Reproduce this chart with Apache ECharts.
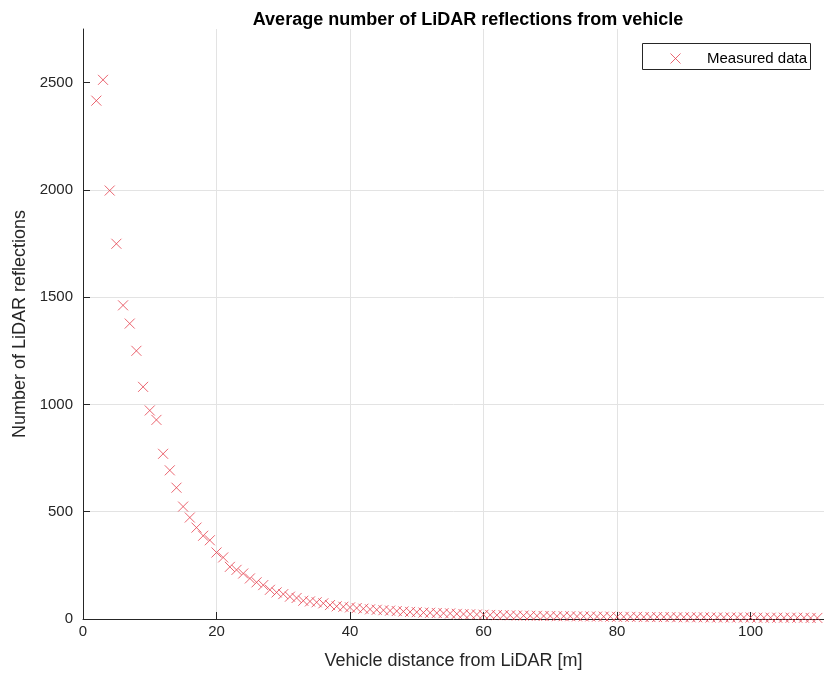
<!DOCTYPE html>
<html>
<head>
<meta charset="utf-8">
<script src="https://cdn.jsdelivr.net/npm/echarts@6/dist/echarts.min.js"></script>
<style>
  html, body { margin: 0; padding: 0; background: #fff; }
  #chart { width: 824px; height: 675px; }
</style>
</head>
<body>
<div id="chart"></div>
<script>
// distance from the LiDAR [m]
const distances = [
  2, 3, 4, 5, 6, 7, 8, 9, 10, 11, 12, 13, 14, 15, 16, 17, 18, 19, 20, 21,
  22, 23, 24, 25, 26, 27, 28, 29, 30, 31, 32, 33, 34, 35, 36, 37, 38, 39, 40, 41,
  42, 43, 44, 45, 46, 47, 48, 49, 50, 51, 52, 53, 54, 55, 56, 57, 58, 59, 60, 61,
  62, 63, 64, 65, 66, 67, 68, 69, 70, 71, 72, 73, 74, 75, 76, 77, 78, 79, 80, 81,
  82, 83, 84, 85, 86, 87, 88, 89, 90, 91, 92, 93, 94, 95, 96, 97, 98, 99, 100, 101,
  102, 103, 104, 105, 106, 107, 108, 109, 110
];
// average number of reflections
const reflections = [
  2416, 2513, 1997, 1749, 1462, 1377, 1250, 1082, 972, 928, 770, 693, 612, 524, 473, 426, 388, 367, 310, 287,
  243, 229, 212, 189, 171, 158, 136, 124, 116, 104, 98, 85, 82, 78, 73, 65, 59, 57, 54, 51,
  48, 45, 43, 41, 39, 37, 35, 33, 32, 30, 29, 28, 27, 26, 24, 23, 22, 21, 20, 19,
  18, 18, 17, 16, 16, 15, 15, 14, 14, 13, 13, 13, 12, 12, 12, 11, 11, 11, 10, 10,
  10, 10, 9, 9, 9, 9, 9, 8, 8, 8, 8, 8, 7, 7, 7, 7, 7, 7, 7, 6,
  6, 6, 6, 6, 6, 6, 6, 5, 5
];
const xTicks = [0, 20, 40, 60, 80, 100];
const yTicks = [0, 500, 1000, 1500, 2000, 2500];

const FONT = '"Liberation Sans", Arial, Helvetica, sans-serif';
const AXIS_COLOR = '#262626';
const GRID_COLOR = '#e3e3e3';
const RED = '#e5404e';
const CROSS = 'path://M0,0L10,10M10,0L0,10';
const crossStyle = { color: RED, borderColor: RED, borderWidth: 1 };

const chart = echarts.init(document.getElementById('chart'));

chart.setOption({
  animation: false,
  backgroundColor: '#fff',
  textStyle: { fontFamily: FONT },
  title: {
    text: 'Average number of LiDAR reflections from vehicle',
    left: 463,
    top: 6,
    textAlign: 'center',
    textStyle: { fontFamily: FONT, fontSize: 18, fontWeight: 'bold', color: '#000' }
  },
  // legend frame drawn separately so the icon keeps the series colour
  graphic: [{
    type: 'rect',
    left: 642,
    top: 43,
    z: 1,
    shape: { width: 168, height: 26 },
    style: { fill: '#fff', stroke: AXIS_COLOR, lineWidth: 1 }
  }],
  legend: {
    left: 642,
    top: 43,
    z: 10,
    orient: 'vertical',
    padding: [8, 8, 5, 28],
    itemWidth: 53,
    itemHeight: 10,
    itemGap: 5,
    textStyle: { fontFamily: FONT, fontSize: 15, color: '#000' },
    itemStyle: crossStyle,
    data: [{ name: 'Measured data', icon: CROSS, itemStyle: crossStyle }]
  },
  grid: { left: 83, top: 29, width: 742, height: 591, containLabel: false },
  xAxis: {
    type: 'value',
    min: 0,
    max: 111,
    interval: 20,
    name: 'Vehicle distance from LiDAR [m]',
    nameLocation: 'middle',
    nameGap: 33,
    nameTextStyle: { fontFamily: FONT, fontSize: 18, color: AXIS_COLOR },
    axisLine: { show: true, lineStyle: { color: AXIS_COLOR, width: 1 } },
    axisTick: { show: true, inside: true, length: 7, customValues: xTicks, lineStyle: { color: AXIS_COLOR } },
    axisLabel: { customValues: xTicks, margin: 5, fontFamily: FONT, fontSize: 15, color: AXIS_COLOR },
    splitLine: { show: true, showMinLine: false, showMaxLine: false, lineStyle: { color: GRID_COLOR, width: 1 } }
  },
  yAxis: {
    type: 'value',
    min: 0,
    max: 2750,
    interval: 500,
    name: 'Number of LiDAR reflections',
    nameLocation: 'middle',
    nameGap: 48,
    nameTextStyle: { fontFamily: FONT, fontSize: 18, color: AXIS_COLOR },
    axisLine: { show: true, lineStyle: { color: AXIS_COLOR, width: 1 } },
    axisTick: { show: true, inside: true, length: 7, customValues: yTicks, lineStyle: { color: AXIS_COLOR } },
    axisLabel: {
      customValues: yTicks, margin: 10, fontFamily: FONT, fontSize: 15, color: AXIS_COLOR,
      formatter: v => String(v)
    },
    splitLine: { show: true, showMinLine: false, showMaxLine: false, lineStyle: { color: GRID_COLOR, width: 1 } }
  },
  series: [{
    name: 'Measured data',
    type: 'scatter',
    symbol: CROSS,
    symbolSize: 10,
    clip: false,
    itemStyle: crossStyle,
    data: distances.map((d, i) => [d, reflections[i]])
  }]
});
</script>
</body>
</html>
